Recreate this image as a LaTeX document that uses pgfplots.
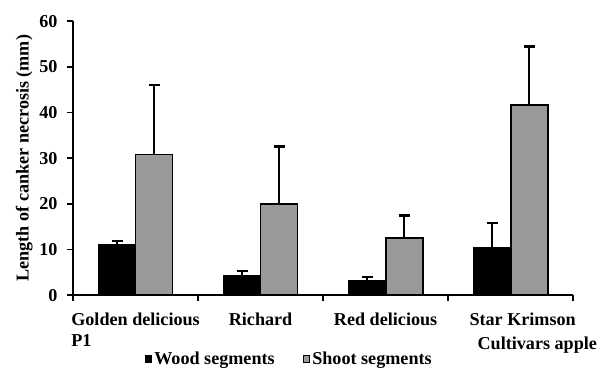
\documentclass[border=0pt]{standalone}
\usepackage{fontspec}
\setmainfont{Liberation Serif}
\usepackage{pgfplots}
\pgfplotsset{compat=1.18}
\definecolor{shootgray}{RGB}{153,153,153}
\pgfplotstableread{
x y e
0 11.0 0.9
1 4.4 0.9
2 3.3 0.7
3 10.4 5.4
}\wood
\pgfplotstableread{
x y e
0 30.8 15.2
1 19.9 12.7
2 12.6 4.9
3 41.6 12.8
}\shoot
\begin{document}
\begin{tikzpicture}
\begin{axis}[
  scale only axis, width=500bp, height=274bp,
  ymin=0, ymax=60, ytick={0,10,...,60},
  xmin=-0.5, xmax=3.5,
  axis x line*=bottom, axis y line*=left,
  axis line style={line width=1.8pt, black},
  ybar=0pt, bar width=37bp,
  xtick={-0.5,0.5,1.5,2.5,3.5},
  x tick label as interval,
  xticklabels={{Golden delicious\\P1},{Richard},{Red delicious},{\hspace*{24bp}Star Krimson}},
  x tick label style={align=left, font=\fontsize{18.2}{21}\selectfont\bfseries, yshift=-8bp},
  y tick label style={font=\fontsize{18.2}{16}\selectfont\bfseries, xshift=-6bp},
  /pgf/number format/assume math mode=true,
  tick align=outside, major tick length=6bp,
  tick style={line width=1.8pt, black},
  ylabel={Length of canker necrosis (mm)},
  ylabel style={font=\fontsize{18.2}{16}\selectfont\bfseries},
  xlabel={Cultivars apple},
  xlabel style={at={(axis description cs:1,0)}, anchor=base east, xshift=24bp, yshift=-54bp, inner sep=0pt, font=\fontsize{18.2}{16}\selectfont\bfseries},
  legend style={at={(axis description cs:0.143,-0.232)}, anchor=west, draw=none, legend columns=2,
    font=\fontsize{18.2}{16}\selectfont\bfseries, inner sep=0pt,
    /tikz/every even column/.append style={column sep=26bp}},
  legend image code/.code={\draw[#1, line width=1pt] (0em,-0.33em) rectangle (0.66em,0.33em);},
  extra description/.code={\path (rel axis cs:-0.146,1.077) (rel axis cs:-0.146,-0.27);},
]
\addplot[fill=black, draw=black, line width=1pt,
  error bars/.cd, y dir=plus, y explicit,
  error bar style={line width=2.6pt, black},
  error mark options={rotate=90, mark size=5.5bp, line width=2.6pt, black}]
  table[x=x, y=y, y error=e] {\wood};
\addlegendentry{Wood segments}
\addplot[fill=shootgray, draw=black, line width=1.8pt,
  error bars/.cd, y dir=plus, y explicit,
  error bar style={line width=2.6pt, black},
  error mark options={rotate=90, mark size=5.5bp, line width=2.6pt, black}]
  table[x=x, y=y, y error=e] {\shoot};
\addlegendentry{Shoot segments}
\end{axis}
\end{tikzpicture}
\end{document}
